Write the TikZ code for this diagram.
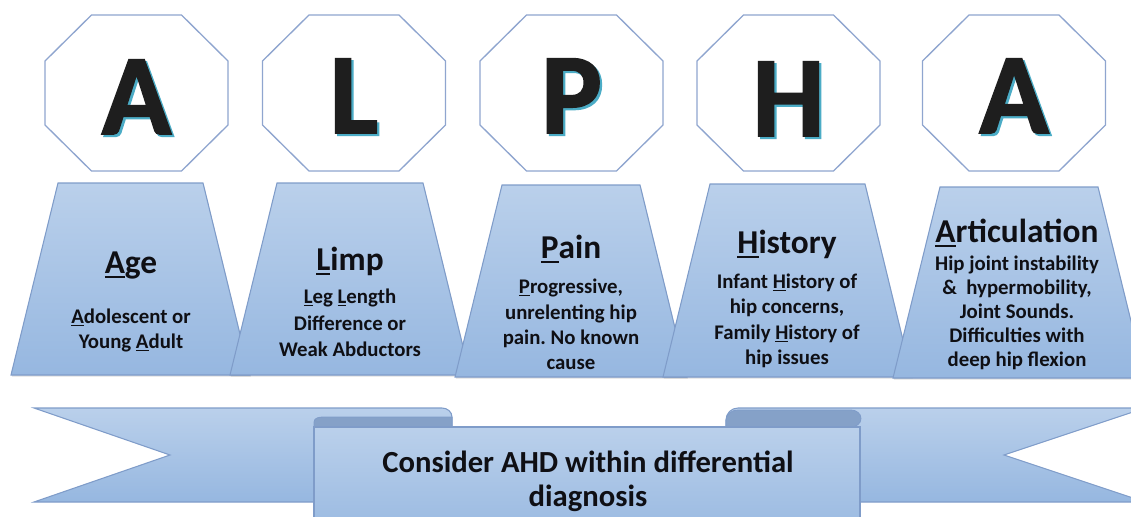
\documentclass[tikz,border=0pt]{standalone}
\usepackage{fontspec}
\setmainfont{Carlito}
\newfontfamily\bigfont[BoldFeatures={FakeBold=1.5}]{Carlito}
\usetikzlibrary{shadows}
\definecolor{octline}{RGB}{143,165,207}
\definecolor{trapline}{RGB}{127,156,201}
\definecolor{trtop}{RGB}{186,208,235}
\definecolor{trbot}{RGB}{150,183,224}
\definecolor{folddark}{RGB}{133,161,200}
\definecolor{letshadow}{RGB}{75,172,198}
\definecolor{letcol}{RGB}{30,30,30}
\definecolor{txtcol}{RGB}{15,15,20}
\newcommand\myul[1]{\leavevmode\setbox0=\hbox{#1}\rlap{\rule[-0.15em]{\wd0}{0.065em}}\box0}
\newcommand\shadowed[1]{\rlap{\kern1.7pt\raisebox{-1.7pt}{\textcolor{letshadow}{#1}}}#1}
\frenchspacing
\begin{document}
\begin{tikzpicture}[x=0.75pt,y=0.75pt]
\useasboundingbox (0,0) rectangle (1131,-517);
\tikzset{
  octo/.style={draw=octline, line width=1pt, fill=white},
  trap/.style={draw=trapline, line width=0.8pt, top color=trtop, bottom color=trbot,
     drop shadow={opacity=0.25, shadow xshift=0.6pt, shadow yshift=-1.2pt}},
  ban/.style={draw=trapline, line width=0.8pt, top color=trtop, bottom color=trbot},
  fold/.style={draw=trapline, line width=0.6pt, fill=folddark},
  bigletter/.style={font=\bigfont\bfseries\fontsize{86}{86}\selectfont, text=letcol, inner sep=0pt, anchor=base},
  ttl/.style={font=\bfseries\fontsize{25}{30}\selectfont, text=txtcol, inner sep=0pt, anchor=base},
  bdy/.style={font=\bfseries\fontsize{15.6}{19}\selectfont, text=txtcol, inner sep=0pt, anchor=base},
  bot/.style={font=\bfseries\fontsize{23}{28}\selectfont, text=txtcol, inner sep=0pt, anchor=base}
}
% octagons with letters
\foreach \cx/\L/\n/\by in {136.5/A/a1/134, 354/L/l/133, 571.5/P/p/133, 788.5/H/h/136, 1014/A/a2/133}{
  \draw[octo] (\cx-45,-15) -- (\cx+45,-15) -- (\cx+91.5,-61) -- (\cx+91.5,-125) -- (\cx+45,-171) -- (\cx-45,-171) -- (\cx-91.5,-125) -- (\cx-91.5,-61) -- cycle;
  \node[bigletter] (L\n) at (\cx,-\by) {\shadowed{\L}};
}
% trapezoids
\foreach \cx/\t/\b/\hw in {130.5/183/375/72.5, 350/183/375/73, 571/185/377/69, 787.5/184/377/77.5, 1019/187/378/79}{
  \draw[trap] (\cx-\hw-47,-\b) -- (\cx-\hw,-\t) -- (\cx+\hw,-\t) -- (\cx+\hw+47,-\b) -- cycle;
}
% Age
\node[ttl] (t1) at (131,-273) {\myul{A}ge};
\node[bdy] (b11) at (131,-323) {\myul{A}dolescent or};
\node[bdy] (b12) at (131,-348) {Young \myul{A}dult};
% Limp
\node[ttl] (t2) at (350,-270) {\myul{L}imp};
\node[bdy] (b21) at (350,-303) {\myul{L}eg \myul{L}ength};
\node[bdy] (b22) at (350,-330) {Difference or};
\node[bdy] (b23) at (350,-356) {Weak Abductors};
% Pain
\node[ttl] (t3) at (571,-258) {\myul{P}ain};
\node[bdy] (b31) at (571,-293) {\myul{P}rogressive,};
\node[bdy] (b32) at (571,-319) {unrelenting hip};
\node[bdy] (b33) at (571,-344) {pain. No known};
\node[bdy] (b34) at (571,-369) {cause};
% History
\node[ttl] (t4) at (787,-253) {\myul{H}istory};
\node[bdy] (b41) at (787,-288) {Infant \myul{H}istory of};
\node[bdy] (b42) at (787,-313) {hip concerns,};
\node[bdy] (b43) at (787,-339) {Family \myul{H}istory of};
\node[bdy] (b44) at (787,-364) {hip issues};
% Articulation
\node[ttl] (t5) at (1017,-242) {\myul{A}rticulation};
\node[bdy] (b51) at (1017,-270) {Hip joint instability};
\node[bdy] (b52) at (1017,-294) {\&\ \ hypermobility,};
\node[bdy] (b53) at (1017,-318) {Joint Sounds.};
\node[bdy] (b54) at (1017,-342) {Difficulties with};
\node[bdy] (b55) at (1017,-366) {deep hip flexion};
% banner
\draw[ban] (34,-408) -- (442,-408) to[out=0,in=90] (452,-417) -- (452,-502) -- (34,-502) -- (170,-455) -- cycle;
\draw[ban] (1145,-408) -- (1004,-455) -- (1145,-502) -- (726,-502) -- (726,-420) to[out=90,in=180] (738,-408) -- cycle;
\draw[fold] (452,-417) -- (324,-417) to[out=180,in=90] (314,-422) -- (314,-427) -- (452,-427) -- cycle;
\draw[fold] (726,-427) -- (726,-420) to[out=90,in=180] (738,-410) -- (851,-410) to[out=0,in=90] (861,-418.5) to[out=-90,in=0] (851,-427) -- cycle;
\draw[ban] (314,-427) rectangle (860,-545);
\node[bot] (c1) at (588,-472) {Consider AHD within differential};
\node[bot] (c2) at (588,-506) {diagnosis};
\end{tikzpicture}
\end{document}
